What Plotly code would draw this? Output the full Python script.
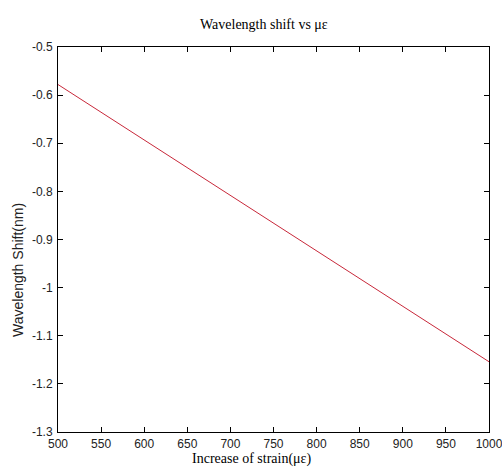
import plotly.graph_objects as go

strain = [500, 1000]
shift_nm = [-0.578, -1.154]
x_ticks = [500, 550, 600, 650, 700, 750, 800, 850, 900, 950, 1000]
y_ticks = [-1.3, -1.2, -1.1, -1.0, -0.9, -0.8, -0.7, -0.6, -0.5]
y_tick_text = ["-1.3", "-1.2", "-1.1", "-1", "-0.9", "-0.8", "-0.7", "-0.6", "-0.5"]

W, H = 502, 468
L, R, T, B = 58, 13, 47, 36

fig = go.Figure()
fig.add_trace(go.Scatter(x=strain, y=shift_nm, mode="lines",
                         line=dict(color="#c8283a", width=1), showlegend=False))

tickfont = dict(family="Liberation Sans, Arial, sans-serif", size=12, color="#222")
axis_common = dict(showgrid=False, zeroline=False, showline=True, linecolor="black",
                   linewidth=1, mirror="allticks", ticks="inside", ticklen=5,
                   tickcolor="black", tickwidth=1, tickfont=tickfont,
                   ticklabeloverflow="allow", automargin=False)
fig.update_xaxes(range=[500, 1000], tickvals=x_ticks, ticktext=[str(v) for v in x_ticks],
                 ticklabelstandoff=1, **axis_common)
fig.update_yaxes(range=[-1.3, -0.5], tickvals=y_ticks, ticktext=y_tick_text,
                 ticklabelstandoff=2, **axis_common)

fig.update_layout(
    width=W, height=H,
    margin=dict(l=L, r=R, t=T, b=B, autoexpand=False),
    paper_bgcolor="white", plot_bgcolor="white",
    annotations=[
        dict(text="Wavelength shift vs με", xref="paper", yref="paper",
             x=(264 - L) / (W - L - R), y=1 + (T - 24) / (H - T - B),
             showarrow=False, xanchor="center", yanchor="middle",
             font=dict(family="Liberation Serif, Times New Roman, serif", size=14, color="black")),
        dict(text="Increase of strain(με)", xref="paper", yref="paper",
             x=(251 - L) / (W - L - R), y=-(459 - (H - B)) / (H - T - B),
             showarrow=False, xanchor="center", yanchor="middle",
             font=dict(family="Liberation Serif, Times New Roman, serif", size=14, color="black")),
        dict(text="Wavelength Shift(nm)", xref="paper", yref="paper",
             x=-(L - 18) / (W - L - R), y=(H - B - 270) / (H - T - B), textangle=-90,
             showarrow=False, xanchor="center", yanchor="middle",
             font=dict(family="Liberation Sans, Arial, sans-serif", size=14, color="#222")),
    ],
)

fig.write_html("out.html", config={"displayModeBar": False},
               post_script="document.body.style.margin='0';document.body.style.overflow='hidden';")
